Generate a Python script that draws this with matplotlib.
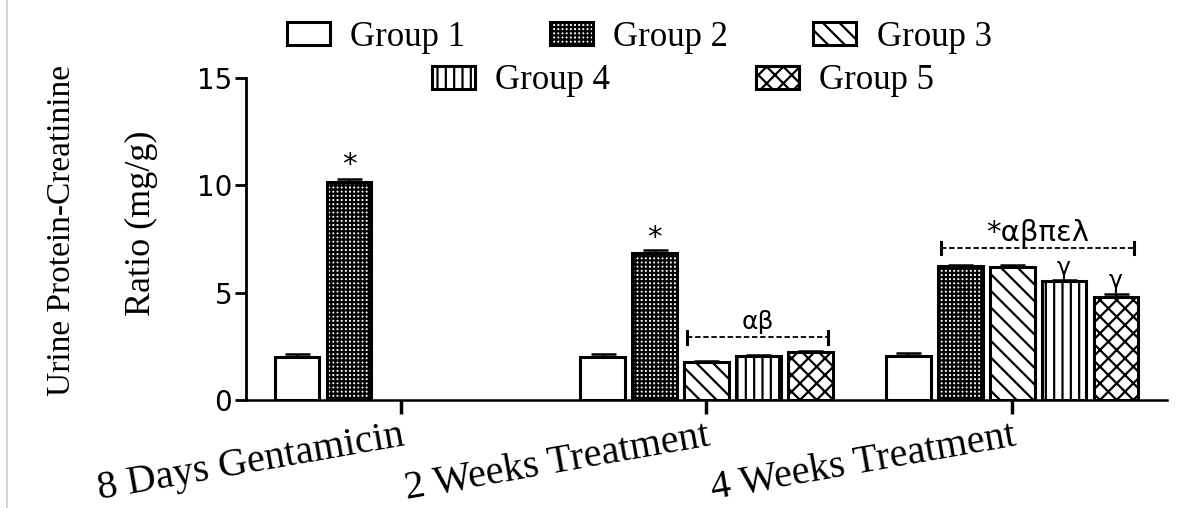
import numpy as np
import matplotlib
matplotlib.use("Agg")
import matplotlib.pyplot as plt
from matplotlib.lines import Line2D

# Data
periods = ["8 Days Gentamicin", "2 Weeks Treatment", "4 Weeks Treatment"]
groups = ["Group 1", "Group 2", "Group 3", "Group 4", "Group 5"]
group1 = [2.00, 2.00, 2.05]
group2 = [10.15, 6.85, 6.24]
group3 = [np.nan, 1.77, 6.20]
group4 = [np.nan, 2.05, 5.54]
group5 = [np.nan, 2.24, 4.80]
group1_sem = [0.15, 0.15, 0.12]
group2_sem = [0.15, 0.12, 0.05]
group3_sem = [np.nan, 0.06, 0.10]
group4_sem = [np.nan, 0.05, 0.05]
group5_sem = [np.nan, 0.06, 0.12]
y_ticks = [0, 5, 10, 15]

means = [group1, group2, group3, group4, group5]
sems = [group1_sem, group2_sem, group3_sem, group4_sem, group5_sem]
hatches = ["", "++++", "\\\\", "||", "xx"]

plt.rcParams["hatch.linewidth"] = 1.6
plt.rcParams["hatch.color"] = "black"

fig = plt.figure(figsize=(11.77, 5.08), dpi=100)
ax = fig.add_axes([0.209, 0.2126, 0.7825, 0.634])

x = np.arange(len(periods))
step = 0.17
width = 0.147

handles = []
for i, (m, s, h, name) in enumerate(zip(means, sems, hatches, groups)):
    m = np.asarray(m, dtype=float)
    s = np.asarray(s, dtype=float)
    pos = x + (i - 2) * step
    ok = ~np.isnan(m)
    bars = ax.bar(pos[ok], m[ok], width=width, facecolor="white",
                  edgecolor="black", linewidth=2.2, hatch=h, label=name,
                  zorder=2)
    ax.errorbar(pos[ok], m[ok], yerr=[np.zeros(ok.sum()), s[ok]], fmt="none",
                ecolor="black", elinewidth=1.8, capsize=9, capthick=1.8,
                zorder=3)
    handles.append(bars)

ax.set_xlim(-0.507, 2.507)
ax.set_ylim(0, 15)
ax.set_yticks(y_ticks)
ax.set_yticklabels([str(t) for t in y_ticks], fontfamily="DejaVu Sans",
                   fontsize=20)
ax.set_xticks(x)
ax.set_xticklabels(periods, fontfamily="Liberation Serif", fontsize=29,
                   rotation=10, ha="right", va="top", rotation_mode="anchor")
ax.tick_params(axis="y", length=8, width=2, pad=2)
ax.tick_params(axis="x", length=10, width=2.5, pad=3)
for side in ("top", "right"):
    ax.spines[side].set_visible(False)
ax.spines["left"].set_linewidth(2)
ax.spines["bottom"].set_linewidth(1.8)

# two-line y-axis title
fig.text(62 / 1177, 1 - 230 / 508, "Urine Protein-Creatinine",
         rotation=90, ha="center", va="center",
         fontfamily="Liberation Serif", fontsize=24)
fig.text(141 / 1177, 1 - 223 / 508, "Ratio (mg/g)",
         rotation=90, ha="center", va="center",
         fontfamily="Liberation Serif", fontsize=26)


def xpos(period, group):
    return x[period] + (group - 2) * step


ann_font = dict(fontfamily="DejaVu Sans", ha="center", va="center",
                color="black")

# significance markers above single bars
ax.text(xpos(0, 1), 10.95, "*", fontsize=21, **ann_font)
ax.text(xpos(1, 1), 7.55, "*", fontsize=21, **ann_font)
ax.text(xpos(2, 3), 6.15, "\u03b3", fontsize=17, **ann_font)
ax.text(xpos(2, 4), 5.55, "\u03b3", fontsize=17, **ann_font)


def bracket(period, g0, g1, y, label, tsize):
    x0 = xpos(period, g0) - width / 2 + 0.01
    x1 = xpos(period, g1) + width / 2 - 0.015
    ax.plot([x0, x1], [y, y], color="black", lw=1.3,
            linestyle=(0, (3, 1.5)), zorder=4)
    for xe in (x0, x1):
        ax.plot([xe, xe], [y - 0.3, y + 0.3], color="black", lw=2.2,
                zorder=4)
    ax.text((x0 + x1) / 2, y + 0.7, label, fontsize=tsize, **ann_font)


bracket(1, 2, 4, 2.93, "\u03b1\u03b2", 18)
bracket(2, 1, 4, 7.08, "*\u03b1\u03b2\u03c0\u03b5\u03bb", 21)

leg_kw = dict(frameon=False, prop={"family": "Liberation Serif", "size": 25},
              handlelength=1.24, handleheight=0.66, handletextpad=0.58,
              borderpad=0, borderaxespad=0, loc="center left")
leg1 = fig.legend(handles[:3], groups[:3], ncol=3, columnspacing=2.45,
                  bbox_to_anchor=(287 / 1177, 1 - 37 / 508), **leg_kw)
leg2 = fig.legend(handles[3:], groups[3:], ncol=2, columnspacing=4.2,
                  bbox_to_anchor=(432 / 1177, 1 - 81 / 508), **leg_kw)

fig.add_artist(Line2D([7 / 1177, 7 / 1177], [0, 1], color="#cccccc", lw=1.2,
                      transform=fig.transFigure))

fig.savefig("out.png", dpi=100)
